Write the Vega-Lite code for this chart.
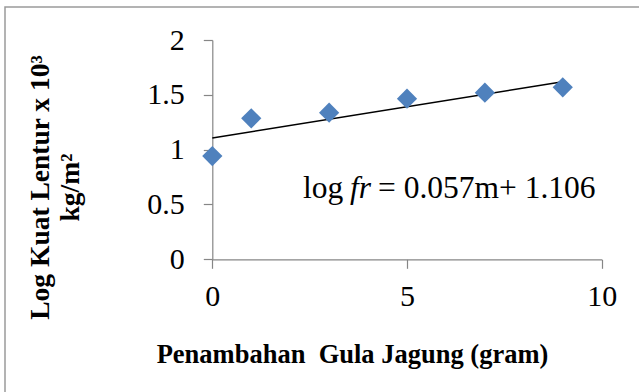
{
  "$schema": "https://vega.github.io/schema/vega-lite/v6.json",
  "width": 636,
  "height": 387,
  "autosize": "none",
  "padding": {"left": 5, "top": 7, "right": 0, "bottom": 0},
  "background": "white",
  "config": {
    "view": {"stroke": "#9a9a9a", "strokeWidth": 1.5, "fill": "white"},
    "font": "Liberation Serif",
    "axis": {"grid": false}
  },
  "datasets": {
    "points": [
      {"m": 0, "logfr": 0.942},
      {"m": 1, "logfr": 1.286},
      {"m": 3, "logfr": 1.337},
      {"m": 5, "logfr": 1.465},
      {"m": 7, "logfr": 1.519},
      {"m": 9, "logfr": 1.569}
    ],
    "trend": [
      {"m": 0, "logfr": 1.106},
      {"m": 9, "logfr": 1.619}
    ],
    "note": [
      {"m": 2.33, "logfr": 0.556}
    ]
  },
  "layer": [
    {
      "data": {"name": "trend"},
      "mark": {"type": "line", "color": "black", "strokeWidth": 1.5},
      "encoding": {
        "x": {
          "field": "m", "type": "quantitative",
          "scale": {"domain": [0, 10], "range": [207.3, 596.7], "nice": false, "zero": false},
          "axis": {
            "offset": -134.7,
            "values": [0, 5, 10],
            "format": "~g",
            "labelFlush": false,
            "domainColor": "#868686", "tickColor": "#868686", "domainWidth": 1.2, "tickWidth": 1.2,
            "tickSize": 9, "labelPadding": 13,
            "labelFontSize": 30, "labelColor": "black", "labelFont": "Liberation Serif",
            "title": "Penambahan\u00a0 Gula Jagung (gram)",
            "titleFont": "Liberation Serif", "titleFontSize": 26.5, "titleFontWeight": "bold", "titleColor": "black",
            "titleX": 347, "titlePadding": 30
          }
        },
        "y": {
          "field": "logfr", "type": "quantitative",
          "scale": {"domain": [0, 2], "range": [252.3, 33], "nice": false},
          "axis": {
            "offset": -207.3,
            "values": [0, 0.5, 1, 1.5, 2],
            "format": "~g",
            "labelFlush": false,
            "domainColor": "#868686", "tickColor": "#868686", "domainWidth": 1.2, "tickWidth": 1.2,
            "tickSize": 9, "labelPadding": 19,
            "labelFontSize": 30, "labelColor": "black", "labelFont": "Liberation Serif",
            "title": ["Log Kuat Lentur x 10³", "kg/m²"],
            "titleFont": "Liberation Serif", "titleFontSize": 27.5, "titleFontWeight": "bold", "titleColor": "black",
            "titleY": 180, "titlePadding": 62, "titleLineHeight": 30
          }
        }
      }
    },
    {
      "data": {"name": "points"},
      "mark": {"type": "point", "shape": "diamond", "filled": true, "color": "#4F81BD", "size": 410, "opacity": 1},
      "encoding": {
        "x": {"field": "m", "type": "quantitative"},
        "y": {"field": "logfr", "type": "quantitative"}
      }
    },
    {
      "data": {"name": "note"},
      "mark": {"type": "text", "text": "log", "align": "left", "baseline": "alphabetic", "fontSize": 31.5, "font": "Liberation Serif", "color": "black"},
      "encoding": {"x": {"field": "m", "type": "quantitative"}, "y": {"field": "logfr", "type": "quantitative"}}
    },
    {
      "data": {"name": "note"},
      "mark": {"type": "text", "text": "fr", "align": "left", "baseline": "alphabetic", "fontSize": 31.5, "fontStyle": "italic", "font": "Liberation Serif", "color": "black", "dx": 47},
      "encoding": {"x": {"field": "m", "type": "quantitative"}, "y": {"field": "logfr", "type": "quantitative"}}
    },
    {
      "data": {"name": "note"},
      "mark": {"type": "text", "text": "= 0.057m+ 1.106", "align": "left", "baseline": "alphabetic", "fontSize": 31.5, "font": "Liberation Serif", "color": "black", "dx": 75},
      "encoding": {"x": {"field": "m", "type": "quantitative"}, "y": {"field": "logfr", "type": "quantitative"}}
    }
  ]
}
